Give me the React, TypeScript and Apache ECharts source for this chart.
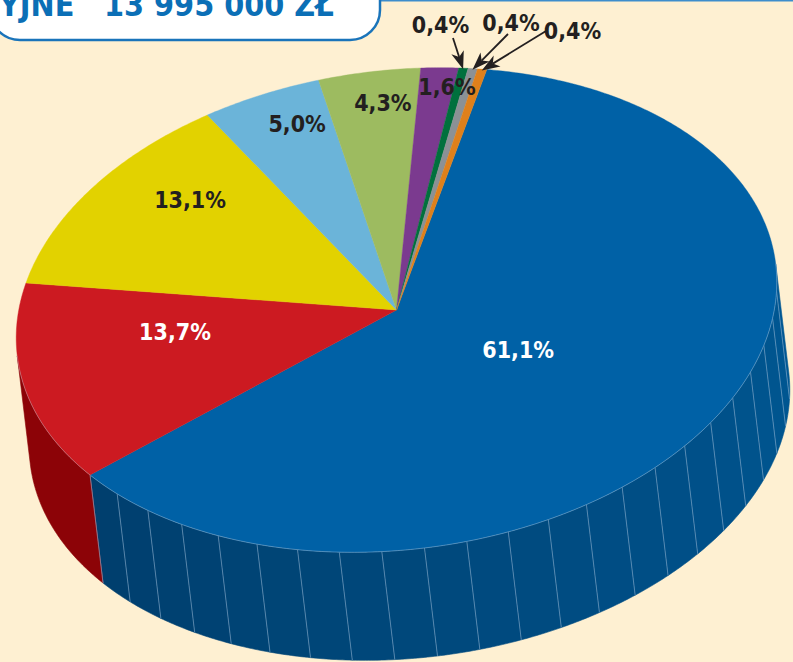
import React, { useEffect, useRef } from "react";
import * as echarts from "echarts";

// ---- data ----
const categories = ["Pozycja 1", "Pozycja 2", "Pozycja 3", "Pozycja 4", "Pozycja 5", "Pozycja 6", "Pozycja 7", "Pozycja 8", "Pozycja 9"];
const shares = [61.1, 13.7, 13.1, 5.0, 4.3, 1.6, 0.4, 0.4, 0.4];
const titleLeft = "YJNE";
const titleAmount = "13 995 000 ZŁ";

// ---- styles / layout ----
const topColors = ["#0061a6", "#cc1a21", "#e2d200", "#6bb4d9", "#9dbb60", "#7b3a8f", "#00703d", "#8b9195", "#df801b"];
const sideLight = ["#005793", "#8c0307", "#b5a800", "#4f93b6", "#7c9848", "#5e2c6e", "#00552e", "#6d7276", "#b36416"];
const sideDark = ["#003e6c", "#8c0307", "#a59800", "#3f82a5", "#6c8638", "#4e1c5e", "#00451e", "#5d6266", "#a35406"];
const labelColors = ["#ffffff", "#ffffff", "#231f20", "#231f20", "#231f20", "#231f20", "#231f20", "#231f20", "#231f20"];
const stripes = [true, false, false, false, false, false, false, false, false];
// label placement: [angle shift from mid-angle (deg), radial fraction]
const labelPlace = [[-1.3, 0.379], [9.3, 0.583], [7.2, 0.752], [2.8, 0.845], [1.7, 0.865], [1.75, 0.921], [0, 0], [0, 0], [0, 0]];
// callout labels for tiny slices: text centre and arrow start
const calloutPos = [[440.5, 25], [511, 23], [572.5, 31]];
const calloutFrom = [[453, 38], [508, 34], [546, 31]];

const G = { cx: 396.5, cy: 310, ax: 380, ay: -37.4, bx: -15, by: -239.4, dx: 13, dy: 108, start: 16 };
const FONT = "'DejaVu Sans Condensed', 'Liberation Sans Narrow', 'DejaVu Sans', sans-serif";
const FACET = 6.5;

const total = shares.reduce((a, b) => a + b, 0);
const spans: number[][] = [];
{
  let acc = G.start;
  shares.forEach((v) => {
    const d = (v / total) * 360;
    spans.push([acc, acc + d]);
    acc += d;
  });
}

function P(deg: number, f = 1): number[] {
  const t = (deg * Math.PI) / 180;
  const s = Math.sin(t), c = Math.cos(t);
  return [G.cx + f * (G.ax * s + G.bx * c), G.cy + f * (G.ay * s + G.by * c)];
}
function arc(a0: number, a1: number, f = 1, step = 0.5): number[][] {
  const n = Math.max(2, Math.ceil(Math.abs(a1 - a0) / step));
  const pts: number[][] = [];
  for (let k = 0; k <= n; k++) pts.push(P(a0 + ((a1 - a0) * k) / n, f));
  return pts;
}
const TH1 = (Math.atan2(G.ax * G.dy - G.ay * G.dx, G.bx * G.dy - G.by * G.dx) * 180) / Math.PI;
function visibleParts(s: number, e: number): number[][] {
  const out: number[][] = [];
  for (const k of [-360, 0, 360]) {
    const lo = Math.max(s, TH1 + k), hi = Math.min(e, TH1 + 180 + k);
    if (hi - lo > 0.01) out.push([lo, hi]);
  }
  return out;
}
function hex(c: string) {
  return [1, 3, 5].map((i) => parseInt(c.slice(i, i + 2), 16));
}
function mix(a: string, b: string, t: number) {
  const A = hex(a), B = hex(b);
  return "rgb(" + A.map((v, i) => Math.round(v + (B[i] - v) * t)).join(",") + ")";
}
const isSilhouette = (a: number) => {
  const m = (((a - TH1) % 180) + 180) % 180;
  return m < 0.05 || m > 179.95;
};
const fmt = (v: number) => v.toFixed(1).replace(".", ",") + "%";

function renderSlice(params: any) {
  const i = params.dataIndex;
  const [s, e] = spans[i];
  const children: any[] = [];
  for (const [lo, hi] of visibleParts(s, e)) {
    const n = stripes[i] ? Math.max(1, Math.round((hi - lo) / FACET)) : 1;
    for (let k = 0; k < n; k++) {
      const a0 = lo + ((hi - lo) * k) / n, a1 = lo + ((hi - lo) * (k + 1)) / n;
      const top = arc(a0, a1);
      const bottom = top.map(([x, y]) => [x + G.dx, y + G.dy]).reverse();
      const t = Math.min(1, Math.max(0, ((a0 + a1) / 2 - 90) / 150));
      const col = mix(sideLight[i], sideDark[i], t);
      children.push({ type: "polygon", shape: { points: top.concat(bottom) }, style: { fill: col, stroke: col, lineWidth: 0.6 } });
    }
    const lines: number[] = [];
    if (stripes[i]) for (let k = 1; k < n; k++) lines.push(lo + ((hi - lo) * k) / n);
    [lo, hi].forEach((a) => { if (!isSilhouette(a)) lines.push(a); });
    lines.forEach((a) => {
      const p = P(a);
      children.push({ type: "line", shape: { x1: p[0], y1: p[1], x2: p[0] + G.dx, y2: p[1] + G.dy }, style: { stroke: "rgba(150,185,215,0.6)", lineWidth: 0.9 } });
    });
  }
  const pts = [[G.cx, G.cy]].concat(arc(s, e));
  children.push({ type: "polygon", shape: { points: pts }, style: { fill: topColors[i], stroke: topColors[i], lineWidth: 0.4 } });
  for (const [lo, hi] of visibleParts(s, e)) {
    children.push({ type: "polyline", shape: { points: arc(lo, hi) }, style: { fill: "none", stroke: "rgba(200,220,240,0.35)", lineWidth: 1 } });
  }
  return { type: "group", children };
}

const calloutIdx: number[] = [];
shares.forEach((v, i) => { if (v < 1) calloutIdx.push(i); });

function renderLabel(params: any) {
  const i = params.dataIndex;
  const [s, e] = spans[i];
  const mid = (s + e) / 2;
  const v = shares[i];
  const children: any[] = [];
  const textStyle = { text: fmt(v), fontFamily: FONT, fontSize: 23, fontWeight: "bold", align: "center", verticalAlign: "middle" };
  if (v >= 1) {
    const [sh, f] = labelPlace[i];
    const p = P(mid + sh, f);
    children.push({ type: "text", x: p[0], y: p[1], style: { ...textStyle, fill: labelColors[i] } });
  } else {
    const k = calloutIdx.indexOf(i);
    const tp = calloutPos[k], fr = calloutFrom[k];
    const tip = P(mid, 0.995);
    const dx = tip[0] - fr[0], dy = tip[1] - fr[1];
    const L = Math.hypot(dx, dy);
    const ux = dx / L, uy = dy / L, px = -uy, py = ux;
    const back = [tip[0] - ux * 18, tip[1] - uy * 18];
    const notch = [tip[0] - ux * 13, tip[1] - uy * 13];
    children.push({ type: "line", shape: { x1: fr[0], y1: fr[1], x2: notch[0], y2: notch[1] }, style: { stroke: "#231f20", lineWidth: 1.8 } });
    children.push({
      type: "polygon",
      shape: { points: [tip, [back[0] + px * 6.5, back[1] + py * 6.5], notch, [back[0] - px * 6.5, back[1] - py * 6.5]] },
      style: { fill: "#231f20" },
    });
    children.push({ type: "text", x: tp[0], y: tp[1], style: { ...textStyle, fill: labelColors[i] } });
  }
  return { type: "group", children };
}

export default function App() {
  const ref = useRef<HTMLDivElement>(null);
  useEffect(() => {
    if (!ref.current) return;
    const chart = echarts.init(ref.current, null, { renderer: "svg" });
    const data = shares.map((v, i) => ({ name: categories[i], value: v }));
    chart.setOption({
      animation: false,
      backgroundColor: "#fef0d2",
      series: [
        { type: "custom", coordinateSystem: "none", silent: true, data, renderItem: renderSlice, z: 2 },
        { type: "custom", coordinateSystem: "none", silent: true, data, renderItem: renderLabel, z: 3 },
      ],
      graphic: [
        { type: "line", shape: { x1: 370, y1: 0.8, x2: 800, y2: 0.8 }, style: { stroke: "#3d8dcc", lineWidth: 1.6 }, z: 10 },
        { type: "rect", shape: { x: -10, y: -40, width: 390, height: 80, r: 30 }, style: { fill: "#ffffff", stroke: "#1a74ba", lineWidth: 2.5 }, z: 11 },
        { type: "text", x: -1, y: 5, style: { text: titleLeft, fontFamily: FONT, fontSize: 32, fontWeight: "bold", fill: "#0b6fb6", align: "left", verticalAlign: "middle" }, z: 12 },
        { type: "text", x: 104, y: 5, style: { text: titleAmount, fontFamily: FONT, fontSize: 32, fontWeight: "bold", fill: "#0b6fb6", align: "left", verticalAlign: "middle" }, z: 12 },
      ],
    });
    return () => chart.dispose();
  }, []);
  return <div ref={ref} style={{ position: "absolute", left: 0, top: 0, width: 793, height: 662 }} />;
}
